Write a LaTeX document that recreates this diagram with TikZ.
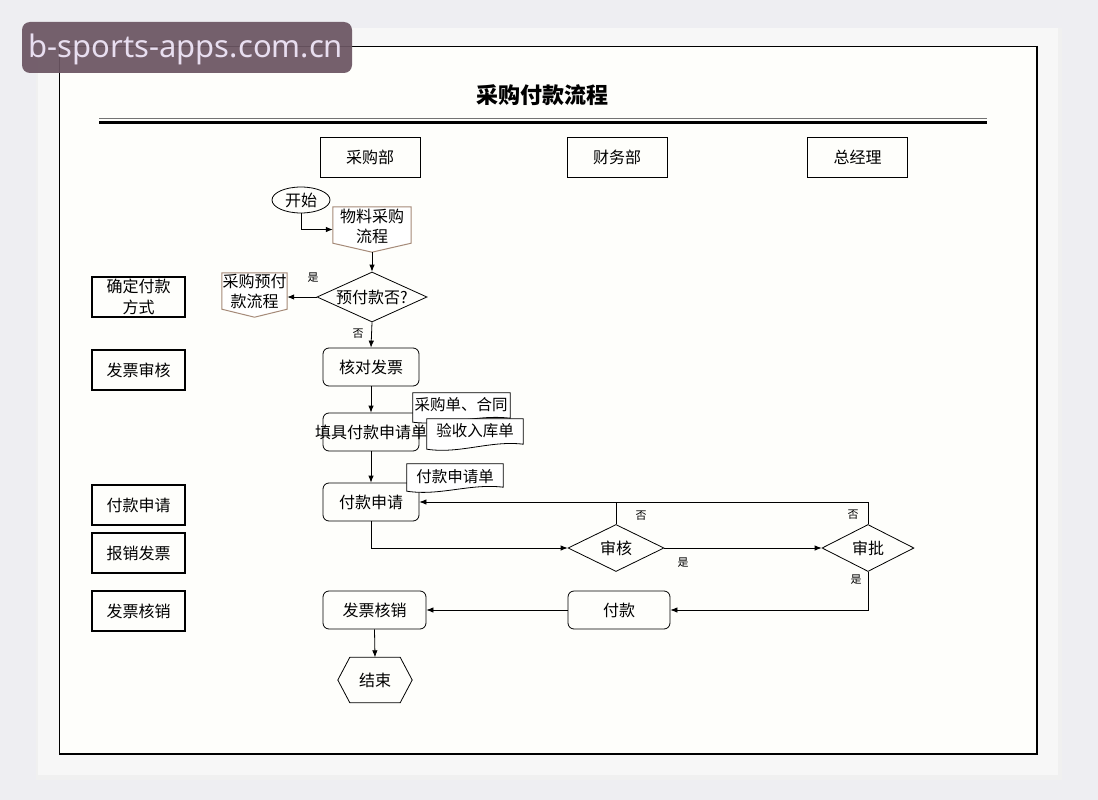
\documentclass[tikz,border=0pt]{standalone}
\usepackage{fontspec}
\setmainfont{Noto Sans CJK SC}
\newfontfamily\wmfont{Noto Sans}
\usetikzlibrary{arrows.meta,shapes.geometric,calc}
\definecolor{bgc}{HTML}{EEEEF2}
\definecolor{panel}{HTML}{F7F7F7}
\definecolor{paper}{HTML}{FEFEFB}
\definecolor{wmbg}{HTML}{6B5562}
\definecolor{wmtx}{HTML}{E8DEF0}
\definecolor{tan}{HTML}{A58A78}
\begin{document}
\begin{tikzpicture}[x=1pt,y=-1pt,
  every node/.style={font=\fontsize{16}{20}\selectfont, inner sep=0pt},
  hdr/.style={draw, line width=0.9pt, minimum width=100pt, minimum height=40pt},
  side/.style={draw, line width=1.7pt, minimum width=93pt, minimum height=40pt, align=center},
  proc/.style={draw, line width=0.8pt, rounded corners=6pt, minimum width=96pt, minimum height=38pt, fill=paper},
  dec/.style={diamond, aspect=2.2, draw, line width=0.8pt, fill=paper, minimum height=47pt},
  ghost/.style={draw=none, align=center},
  lab/.style={font=\fontsize{11}{13}\selectfont},
  docf/.style={font=\fontsize{15.5}{19}\selectfont},
  arr/.style={-{Latex[length=7pt,width=5.5pt]}, line width=0.8pt},
  ln/.style={line width=0.8pt},
  docbox/.style={line width=0.8pt, fill=white}
]
\useasboundingbox (0,0) rectangle (1098,800);
% background
\fill[bgc] (0,0) rectangle (1098,800);
\fill[black!6] (36,28) rectangle (1062,780);
\fill[panel] (38,28) rectangle (1058,775);
\fill[paper] (59,46) rectangle (1038,754);
\draw[line width=0.9pt] (1038,754) -- (59,754) -- (59,46) -- (1038,46);
\draw[line width=2.6pt] (1037,46) -- (1037,754.5);
\draw[line width=1.6pt] (59,754) -- (1038,754);

% title
\node[font=\fontsize{22}{26}\selectfont\bfseries] (title) at (542,95) {采购付款流程};
\draw[line width=1.4pt, black!55] (99,118.5) -- (987,118.5);
\draw[line width=3pt] (99,122) -- (987,122);

% headers
\node[hdr] (h1) at (370,157) {采购部};
\node[hdr] (h2) at (617,157) {财务部};
\node[hdr] (h3) at (857.5,157) {总经理};

% side boxes
\node[side, font=\fontsize{16}{21}\selectfont] (s1) at (138.5,297) {确定付款\\方式};
\node[side] (s2) at (138.5,370) {发票审核};
\node[side] (s3) at (138.5,505) {付款申请};
\node[side] (s4) at (138.5,553) {报销发票};
\node[side] (s5) at (138.5,611) {发票核销};

% start
\node[ellipse, draw, line width=0.8pt, minimum width=58pt, minimum height=26pt, fill=paper] (start) at (301,200) {开始};

% off-page: 物料采购流程
\node[ghost, minimum width=78pt, minimum height=45pt] (opA) at (372,229.5) {};
\draw[tan, line width=1pt, fill=white] (opA.north west) -- (opA.north east) -- ([yshift=9pt]opA.south east) -- (opA.south) -- ([yshift=9pt]opA.south west) -- cycle;
\node[align=center, font=\fontsize{16}{20}\selectfont] at (372,226) {物料采购\\流程};

% decision 预付款否?
\node[dec, minimum width=110pt, minimum height=50pt] (q1) at (372,297) {预付款否?};

% off-page: 采购预付款流程
\node[ghost, minimum width=65pt, minimum height=44pt] (opB) at (254.5,295) {};
\draw[tan, line width=1pt, fill=white] (opB.north west) -- (opB.north east) -- ([yshift=8pt]opB.south east) -- (opB.south) -- ([yshift=8pt]opB.south west) -- cycle;
\node[align=center, font=\fontsize{16}{20}\selectfont] at (254.5,291) {采购预付\\款流程};

% processes
\node[proc] (chk) at (371,367) {核对发票};
\node[proc] (fill) at (371,432) {};
\node at (371,432) {填具付款申请单};

% documents
\node[ghost, minimum width=97pt, minimum height=27pt] (d1) at (461.5,406.5) {};
\draw[docbox] (d1.north west) -- (d1.north east) -- ([yshift=2pt]d1.south east)
  .. controls ($(d1.south)+(15,-6)$) and ($(d1.south)+(-15,6)$) .. ([yshift=-2pt]d1.south west) -- cycle;
\node[docf] at (461,405) {采购单、合同};

\node[ghost, minimum width=96pt, minimum height=29pt] (d2) at (475,433.5) {};
\draw[docbox] (d2.north west) -- (d2.north east) -- ([yshift=4pt]d2.south east)
  .. controls ($(d2.south)+(15,-8)$) and ($(d2.south)+(-15,6)$) .. ([yshift=-1pt]d2.south west) -- cycle;
\node[docf] at (475,431) {验收入库单};

\node[proc] (apply) at (371,502) {付款申请};

\node[ghost, minimum width=96pt, minimum height=26pt] (d3) at (455,477) {};
\draw[docbox] (d3.north west) -- (d3.north east) -- ([yshift=3pt]d3.south east)
  .. controls ($(d3.south)+(15,-7)$) and ($(d3.south)+(-15,6)$) .. ([yshift=-1pt]d3.south west) -- cycle;
\node[docf] at (455,477) {付款申请单};

% decisions
\node[dec, minimum width=96pt] (aud) at (616,548) {审核};
\node[dec, minimum width=92pt] (app) at (868,548) {审批};

\node[proc, minimum width=102pt] (pay) at (619,610) {付款};
\node[proc, minimum width=103pt] (inv) at (374.5,610) {发票核销};

% end hexagon
\node[ghost, minimum width=74pt, minimum height=45pt] (end) at (375,680) {};
\draw[line width=0.8pt, fill=paper] (end.west) -- ([xshift=12pt]end.north west) -- ([xshift=-12pt]end.north east) -- (end.east) -- ([xshift=-12pt]end.south east) -- ([xshift=12pt]end.south west) -- cycle;
\node at (375,680) {结束};

% connectors
\draw[arr] (start.south) |- (opA.west);
\draw[arr] (opA.south) -- (q1.north);
\draw[arr] (q1.west) -- (q1.west -| opB.east);
\draw[arr] (q1.south) -- (chk.north);
\draw[arr] (chk.south) -- (fill.north);
\draw[arr] (fill.south) -- (apply.north);
\draw[arr] (apply.south) |- (aud.west);
\draw[arr] (aud.north) |- (apply.east);
\draw[ln] (app.north) |- (aud.north |- apply.east);
\draw[arr] (aud.east) -- (app.west);
\draw[arr] (app.south) |- (pay.east);
\draw[arr] (pay.west) -- (inv.east);
\draw[arr] (inv.south) -- (end.north);

% labels
\node[lab] (l1) at (313,278) {是};
\node[lab] (l2) at (358,334) {否};
\node[lab] (l3) at (641,516) {否};
\node[lab] (l4) at (683,563) {是};
\node[lab] (l5) at (853,515) {否};
\node[lab] (l6) at (856,580) {是};

% watermark
\fill[wmbg, opacity=0.93, rounded corners=8pt] (22,22) rectangle (352,73);
\node[font=\wmfont\fontsize{31}{36}\selectfont, text=wmtx] (wm) at (186,49) {b-sports-apps.com.cn};
\end{tikzpicture}
\end{document}
